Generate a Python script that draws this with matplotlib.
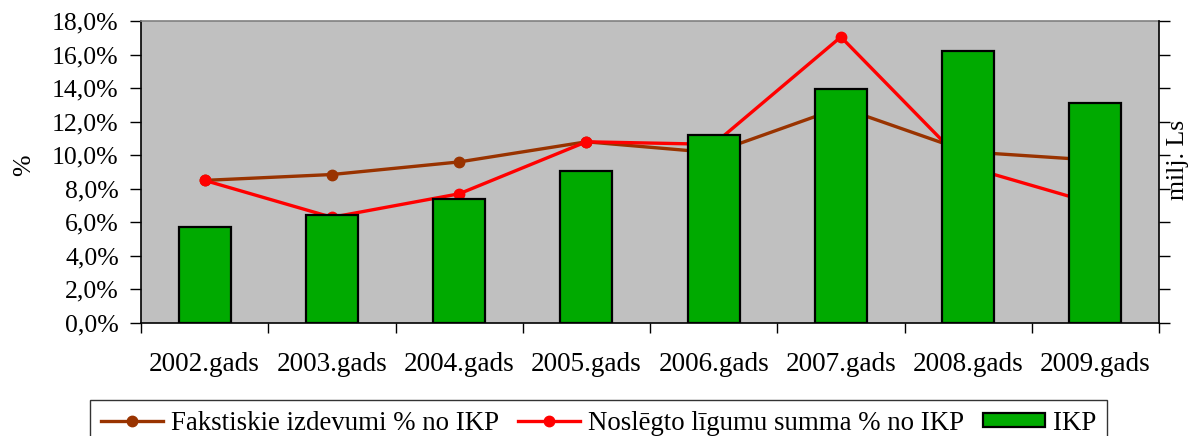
import matplotlib
matplotlib.use("Agg")
import matplotlib.pyplot as plt
from matplotlib.ticker import FuncFormatter, FixedLocator
from matplotlib.lines import Line2D
from matplotlib.patches import Patch
import numpy as np

years = ["2002.gads", "2003.gads", "2004.gads", "2005.gads",
         "2006.gads", "2007.gads", "2008.gads", "2009.gads"]
fakt_pct = [8.5, 8.85, 9.6, 10.8, 10.15, 12.85, 10.2, 9.7]      # % of IKP
nosl_pct = [8.5, 6.3, 7.7, 10.8, 10.65, 17.05, 9.3, 7.1]        # % of IKP
ikp = [5750, 6420, 7400, 9030, 11200, 13950, 16230, 13100]      # milj. Ls

label_fakt = "Fakstiskie izdevumi % no IKP"
label_nosl = "Noslēgto līgumu summa % no IKP"
label_ikp = "IKP"

W, H = 1188, 436
fig = plt.figure(figsize=(W / 100, H / 100), dpi=100)
plt.rcParams['font.family'] = ['Liberation Serif', 'DejaVu Serif']

left, right, bottom, top = 141 / W, 1159 / W, 1 - 323 / H, 1 - 21 / H
ax = fig.add_axes([left, bottom, right - left, top - bottom])
ax.set_facecolor('#C0C0C0')

x = np.arange(len(years))
brown = '#993300'
red = '#FF0000'
ax.plot(x, fakt_pct, color=brown, lw=2.4, marker='o', ms=7.5, zorder=3)
ax.plot(x, nosl_pct, color=red, lw=2.4, marker='o', ms=7.5, zorder=3)

ax.set_xlim(-0.5, len(years) - 0.5)
ax.set_ylim(0, 18)
ax.yaxis.set_major_locator(FixedLocator(np.arange(0, 18.01, 2)))
ax.yaxis.set_major_formatter(FuncFormatter(lambda v, p: f"{v:.1f}".replace('.', ',') + '%'))
ax.tick_params(axis='y', direction='out', length=8, width=1, pad=8, labelsize=18.5, colors='black')

ax.set_xticks(x)
ax.set_xticklabels(years)
ax.set_xticks(np.arange(-0.5, len(years)), minor=True)
ax.tick_params(axis='x', which='major', length=0, pad=21, labelsize=19.5)
ax.tick_params(axis='x', which='minor', direction='out', length=7, width=1)

for s in ['left', 'bottom']:
    ax.spines[s].set_color('black')
    ax.spines[s].set_linewidth(1.2)
ax.spines['top'].set_color('#808080')
ax.spines['top'].set_linewidth(1.2)
ax.spines['right'].set_visible(False)

ax2 = ax.twinx()
ax2.patch.set_visible(False)
ax2.bar(x, ikp, width=0.41, color='#00AA00', edgecolor='black', linewidth=1.6, zorder=2)
ax2.set_ylim(0, 18000)
ax2.yaxis.set_major_locator(FixedLocator(np.arange(0, 18001, 2000)))
ax2.set_yticklabels([])
ax2.tick_params(axis='y', direction='out', length=8, width=1)
for s in ['left', 'bottom', 'top']:
    ax2.spines[s].set_visible(False)
ax2.spines['right'].set_color('black')
ax2.spines['right'].set_linewidth(1.2)

fig.text(13 / W, 1 - 165 / H, '%', rotation=90, ha='left', va='center', fontsize=18.5)
fig.text(1167 / W, 1 - 160 / H, 'milj. Ls', rotation=90, ha='left', va='center', fontsize=18.5)

handles = [
    Line2D([], [], color=brown, lw=2.4, marker='o', ms=7.5),
    Line2D([], [], color=red, lw=2.4, marker='o', ms=7.5),
    Patch(facecolor='#00AA00', edgecolor='black', linewidth=1.6),
]
leg = fig.legend(handles, [label_fakt, label_nosl, label_ikp], ncol=3,
                 loc='upper left', bbox_to_anchor=(90 / W, 1 - 400 / H),
                 borderaxespad=0, fontsize=19.4, frameon=True, fancybox=False,
                 handlelength=2.3, handletextpad=0.3, columnspacing=0.7,
                 borderpad=0.4, handleheight=0.45)
leg.get_frame().set_edgecolor('black')
leg.get_frame().set_linewidth(1.0)

fig.savefig('out.png', dpi=100)
